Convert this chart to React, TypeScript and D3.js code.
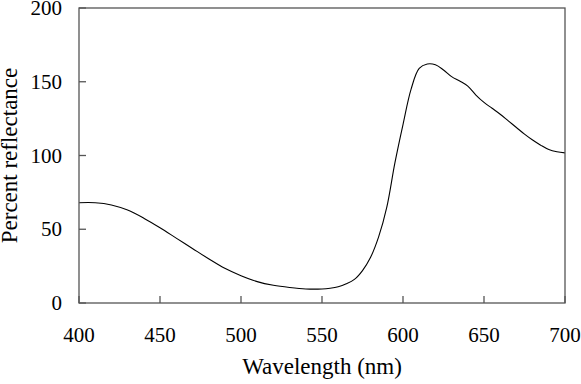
import React from "react";
import * as d3 from "d3";

// wavelength (nm) and percent reflectance
const wavelengths = [
  400, 410, 420, 430, 440, 450, 460, 470, 480, 490, 500, 510, 520, 530, 540,
  550, 555, 560, 565, 570, 575, 580, 585, 590, 595, 600, 605, 610, 615, 620,
  625, 630, 635, 640, 645, 650, 655, 660, 665, 670, 675, 680, 685, 690, 695, 700,
];
const reflectance = [
  68, 68, 66.5, 63, 57.5, 51, 44, 37, 30, 23.5, 18.5, 14.5, 12, 10.5, 9.5,
  9.5, 10, 11, 13, 16, 22, 31, 45, 65, 95, 121, 145, 159, 162, 161.5,
  158, 153.5, 150.5, 147, 141, 136, 132, 128, 123.5, 119, 114.5, 110.5, 107, 104, 102.5, 101.8,
];
const xTicks = [400, 450, 500, 550, 600, 650, 700];
const yTicks = [0, 50, 100, 150, 200];

export default function App() {
  const width = 581;
  const height = 384;
  const margin = { top: 8, right: 16, bottom: 81, left: 79 };
  const innerW = width - margin.left - margin.right;
  const innerH = height - margin.top - margin.bottom;

  const x = d3.scaleLinear().domain([400, 700]).range([0, innerW]);
  const y = d3.scaleLinear().domain([0, 200]).range([innerH, 0]);

  const points = wavelengths.map((w, i) => ({ w, r: reflectance[i] }));
  const line = d3
    .line<{ w: number; r: number }>()
    .x(d => x(d.w))
    .y(d => y(d.r))
    .curve(d3.curveCatmullRom.alpha(0.5));

  const font = "'Liberation Serif', 'DejaVu Serif', serif";
  const axisColor = "#555";

  return (
    <svg
      width={width}
      height={height}
      style={{ position: "absolute", left: 0, top: 0 }}
      fontFamily={font}
    >
      <rect width={width} height={height} fill="#fff" />
      <g transform={`translate(${margin.left},${margin.top})`}>
        <path d={line(points) || ""} fill="none" stroke="#000" strokeWidth={1.1} />

        <rect
          width={innerW}
          height={innerH}
          fill="none"
          stroke={axisColor}
          strokeWidth={1.3}
        />

        {xTicks.map(t => (
          <g key={t} transform={`translate(${x(t)},${innerH})`}>
            <line y2={-7} stroke={axisColor} strokeWidth={1.3} />
            <text y={39} textAnchor="middle" fontSize={21} fill="#000">
              {t}
            </text>
          </g>
        ))}

        {yTicks.map(t => (
          <g key={t} transform={`translate(0,${y(t)})`}>
            <line x2={7} stroke={axisColor} strokeWidth={1.3} />
            <text x={-17} y={7} textAnchor="end" fontSize={21} fill="#000">
              {t}
            </text>
          </g>
        ))}

        <text
          x={innerW / 2}
          y={innerH + 71}
          textAnchor="middle"
          fontSize={23}
          fill="#000"
        >
          Wavelength (nm)
        </text>
        <text
          transform={`translate(${-62},${innerH / 2}) rotate(-90)`}
          textAnchor="middle"
          fontSize={23}
          fill="#000"
        >
          Percent reflectance
        </text>
      </g>
    </svg>
  );
}
